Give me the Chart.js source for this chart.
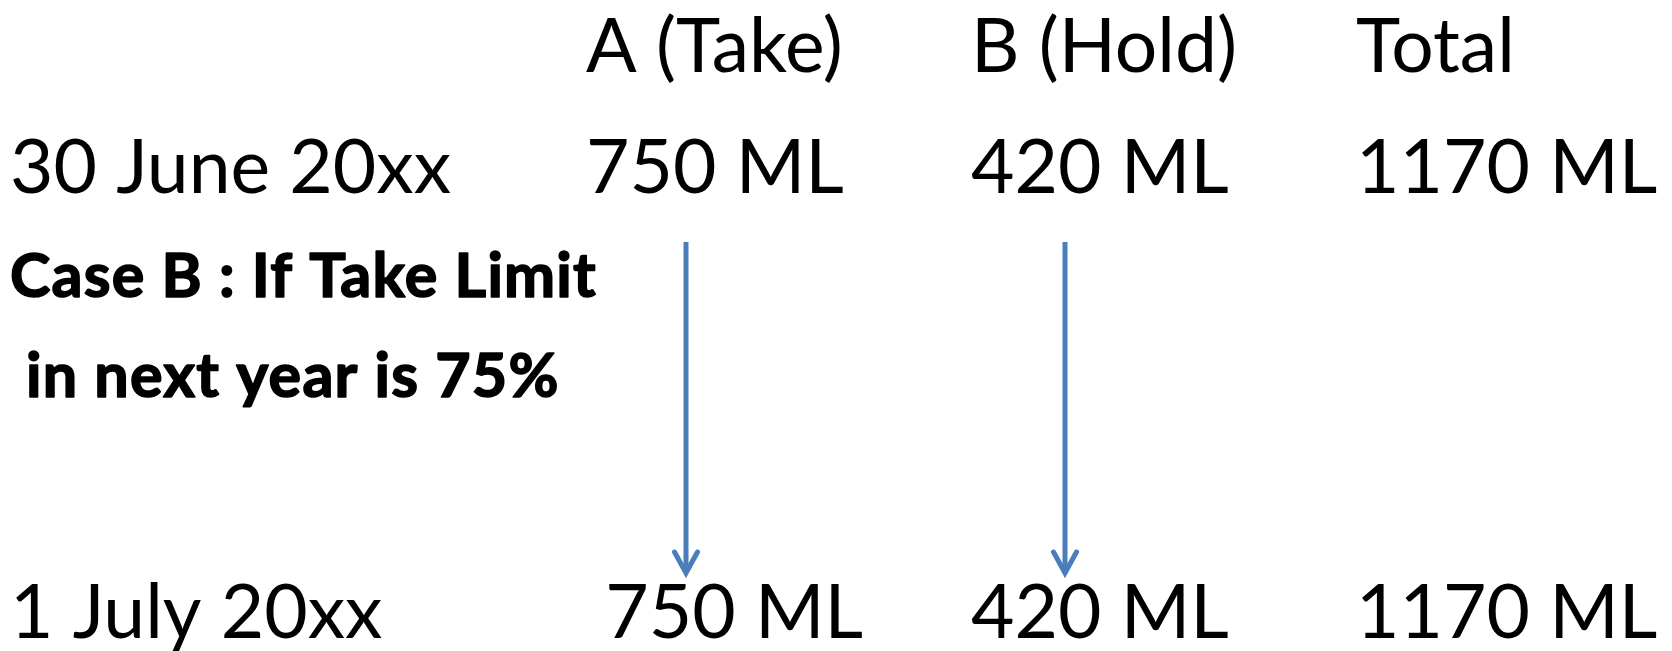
<!DOCTYPE html>
<html><head><meta charset="utf-8">
<script src="https://cdn.jsdelivr.net/npm/chart.js@4/dist/chart.umd.min.js"></script>
<style>html,body{margin:0;padding:0;background:#fff;overflow:hidden}canvas{display:block}</style>
</head><body>
<canvas id="c" width="1672" height="651"></canvas>
<script>
// ---- data ----
const columns = ['A (Take)', 'B (Hold)', 'Total'];
const rowLabels = ['30 June 20xx', '1 July 20xx'];
const openingValues = [750, 420, 1170];
const closingValues = [750, 420, 1170];
const closingLead = [' ', '', ''];
const unit = 'ML';
const caseNote = ['Case B : If Take Limit', ' in next year is 75%'];
const arrowColumns = [0, 1];

// ---- layout / style ----
const W = 1672, H = 651;
const L = {
  colOrigin: 201, colStep: 385, labelX: 10,
  headerY: 72, openY: 193, closeY: 638, note1Y: 297, note2Y: 397,
  arrowTop: 242, arrowTip: 573, arrowOffsetPx: [100, 94],
  wingW: 11.5, wingH: 21
};
const FONT = 'Lato, "Open Sans", sans-serif';
const REG = '75px ' + FONT;
const BOLD = 'bold 61px ' + FONT;
const BOLD_SPACING = '1.2px';
const ARROW = '#4a7ebb';

const colValue = i => i + 1;
const pxToX = px => (px - L.colOrigin) / L.colStep;

const arrowDatasets = arrowColumns.map((ci, k) => ({
  label: 'arrow' + k,
  showLine: true,
  data: [
    { x: colValue(ci) + L.arrowOffsetPx[k] / L.colStep, y: L.arrowTop },
    { x: colValue(ci) + L.arrowOffsetPx[k] / L.colStep, y: L.arrowTip - 2 }
  ],
  borderColor: ARROW,
  borderWidth: 5,
  pointRadius: 0,
  fill: false
}));

const textPlugin = {
  id: 'tableText',
  afterDatasetsDraw(chart) {
    const ctx = chart.ctx, xs = chart.scales.x, ys = chart.scales.y;
    ctx.save();
    ctx.fillStyle = '#000';
    ctx.strokeStyle = '#000';
    ctx.textBaseline = 'alphabetic';
    ctx.textAlign = 'left';
    const lx = xs.getPixelForValue(pxToX(L.labelX));
    ctx.font = REG;
    columns.forEach((c, i) => ctx.fillText(c, xs.getPixelForValue(colValue(i)), ys.getPixelForValue(L.headerY)));
    ctx.fillText(rowLabels[0], lx, ys.getPixelForValue(L.openY));
    openingValues.forEach((v, i) => ctx.fillText(v + ' ' + unit, xs.getPixelForValue(colValue(i)), ys.getPixelForValue(L.openY)));
    ctx.fillText(rowLabels[1], lx, ys.getPixelForValue(L.closeY));
    closingValues.forEach((v, i) => ctx.fillText(closingLead[i] + v + ' ' + unit, xs.getPixelForValue(colValue(i)), ys.getPixelForValue(L.closeY)));
    ctx.font = BOLD;
    if ('letterSpacing' in ctx) ctx.letterSpacing = BOLD_SPACING;
    ctx.lineWidth = 1.6;
    ctx.lineJoin = 'round';
    caseNote.forEach((t, i) => {
      const y = ys.getPixelForValue(i === 0 ? L.note1Y : L.note2Y);
      ctx.fillText(t, lx, y);
      ctx.strokeText(t, lx, y);
    });
    if ('letterSpacing' in ctx) ctx.letterSpacing = '0px';

    // arrowheads
    ctx.strokeStyle = ARROW;
    ctx.lineWidth = 5;
    ctx.lineCap = 'round';
    ctx.lineJoin = 'miter';
    chart.data.datasets.forEach((ds, di) => {
      const pts = chart.getDatasetMeta(di).data;
      const tip = pts[pts.length - 1];
      const tx = tip.x, ty = ys.getPixelForValue(L.arrowTip);
      ctx.beginPath();
      ctx.moveTo(tx - L.wingW, ty - L.wingH);
      ctx.lineTo(tx, ty);
      ctx.lineTo(tx + L.wingW, ty - L.wingH);
      ctx.stroke();
    });
    ctx.restore();
  }
};

function draw() {
  new Chart(document.getElementById('c'), {
    type: 'scatter',
    data: { datasets: arrowDatasets },
    options: {
      responsive: false,
      animation: false,
      devicePixelRatio: 1,
      layout: { padding: 0 },
      plugins: { legend: { display: false }, tooltip: { enabled: false } },
      scales: {
        x: { type: 'linear', display: false, min: pxToX(0), max: pxToX(W) },
        y: { type: 'linear', display: false, min: 0, max: H, reverse: true }
      }
    },
    plugins: [textPlugin]
  });
}
Promise.all([document.fonts.load(REG), document.fonts.load(BOLD)]).then(draw, draw);
</script>
</body></html>
